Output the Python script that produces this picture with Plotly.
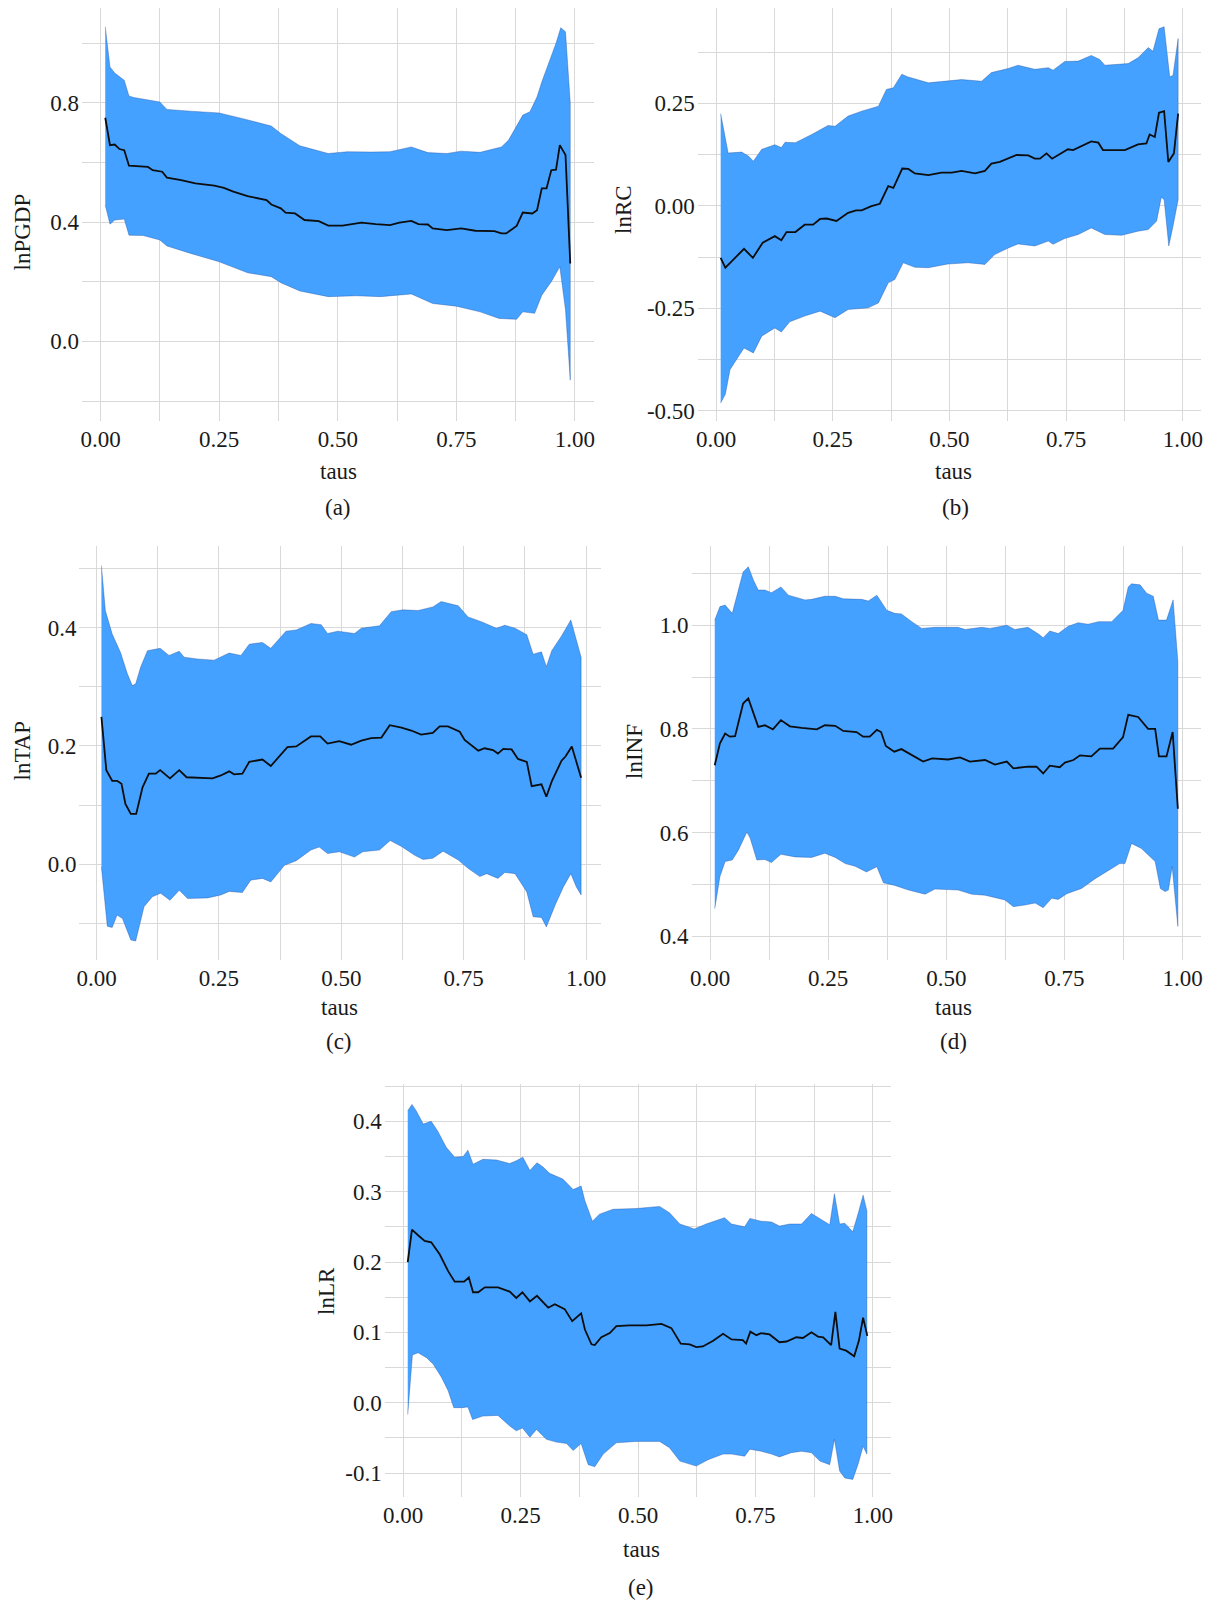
import plotly.graph_objects as go

# ---------------- data ----------------
X_TICKS = [0.0, 0.25, 0.5, 0.75, 1.0]
X_TICKTEXT = ["0.00", "0.25", "0.50", "0.75", "1.00"]

# (a) lnPGDP
A_UP_TAU = [0.01,0.02,0.03,0.05,0.06,0.07,0.125,0.14,0.19,0.25,0.30,0.36,0.38,0.42,0.48,0.52,0.57,0.61,0.655,0.69,0.73,0.76,0.80,0.845,0.86,0.877,0.89,0.905,0.92,0.93,0.95,0.96,0.97,0.98,0.99]
A_UP = [1.055,0.92,0.90,0.876,0.823,0.818,0.803,0.778,0.772,0.766,0.747,0.722,0.697,0.656,0.63,0.636,0.635,0.636,0.652,0.633,0.63,0.638,0.634,0.652,0.675,0.72,0.759,0.77,0.82,0.87,0.952,1.0,1.052,1.038,0.80]
A_LO_TAU = [0.01,0.02,0.03,0.05,0.06,0.09,0.125,0.14,0.19,0.25,0.31,0.36,0.38,0.42,0.48,0.54,0.59,0.655,0.70,0.75,0.80,0.84,0.877,0.89,0.915,0.93,0.95,0.968,0.98,0.99]
A_LO = [0.457,0.393,0.407,0.41,0.356,0.355,0.34,0.32,0.295,0.267,0.23,0.217,0.197,0.169,0.15,0.153,0.15,0.159,0.127,0.118,0.099,0.077,0.074,0.099,0.094,0.155,0.20,0.25,0.105,-0.13]
A_MID_TAU = [0.01,0.02,0.03,0.04,0.05,0.06,0.10,0.11,0.13,0.14,0.17,0.20,0.24,0.26,0.28,0.31,0.35,0.36,0.38,0.39,0.41,0.43,0.46,0.48,0.51,0.55,0.58,0.61,0.63,0.655,0.67,0.69,0.70,0.73,0.76,0.79,0.83,0.845,0.855,0.877,0.89,0.91,0.92,0.93,0.94,0.95,0.96,0.968,0.98,0.99]
A_MID = [0.75,0.658,0.66,0.645,0.641,0.589,0.585,0.574,0.569,0.549,0.541,0.53,0.522,0.515,0.502,0.487,0.474,0.459,0.446,0.432,0.429,0.407,0.403,0.388,0.388,0.398,0.393,0.39,0.398,0.404,0.393,0.392,0.379,0.373,0.379,0.371,0.37,0.362,0.362,0.387,0.432,0.429,0.44,0.513,0.513,0.574,0.576,0.658,0.625,0.261]
A_Y_TICKS = [0.0, 0.4, 0.8]
A_Y_TICKTEXT = ["0.0", "0.4", "0.8"]

# (b) lnRC
B_UP_TAU = [0.01,0.026,0.055,0.07,0.08,0.098,0.126,0.14,0.148,0.17,0.205,0.24,0.255,0.283,0.312,0.348,0.365,0.38,0.398,0.41,0.455,0.526,0.569,0.59,0.626,0.647,0.683,0.712,0.722,0.747,0.776,0.804,0.822,0.833,0.883,0.904,0.926,0.936,0.949,0.96,0.972,0.979,0.99]
B_UP = [0.225,0.129,0.131,0.121,0.109,0.138,0.149,0.142,0.155,0.154,0.174,0.196,0.194,0.219,0.231,0.243,0.284,0.288,0.321,0.315,0.30,0.308,0.304,0.325,0.335,0.343,0.333,0.337,0.331,0.352,0.353,0.367,0.357,0.343,0.347,0.361,0.386,0.377,0.432,0.437,0.315,0.318,0.408]
B_LO_TAU = [0.01,0.02,0.03,0.044,0.06,0.07,0.08,0.098,0.126,0.14,0.158,0.19,0.223,0.255,0.283,0.326,0.348,0.369,0.383,0.401,0.426,0.455,0.497,0.54,0.576,0.597,0.626,0.647,0.683,0.712,0.722,0.747,0.776,0.804,0.833,0.869,0.904,0.926,0.944,0.954,0.96,0.97,0.979,0.99]
B_LO = [-0.481,-0.46,-0.40,-0.375,-0.347,-0.353,-0.359,-0.318,-0.298,-0.308,-0.283,-0.269,-0.257,-0.273,-0.253,-0.249,-0.237,-0.188,-0.18,-0.139,-0.15,-0.151,-0.142,-0.139,-0.143,-0.119,-0.103,-0.093,-0.098,-0.086,-0.094,-0.08,-0.07,-0.054,-0.07,-0.072,-0.062,-0.058,-0.037,0.021,0.015,-0.098,-0.05,0.015]
B_MID_TAU = [0.01,0.02,0.034,0.044,0.06,0.079,0.10,0.126,0.14,0.151,0.17,0.19,0.208,0.223,0.237,0.258,0.283,0.30,0.312,0.333,0.351,0.369,0.38,0.399,0.412,0.426,0.455,0.483,0.505,0.526,0.555,0.576,0.59,0.608,0.626,0.644,0.669,0.683,0.694,0.708,0.72,0.74,0.754,0.765,0.783,0.804,0.819,0.829,0.876,0.904,0.922,0.929,0.94,0.949,0.96,0.969,0.981,0.99]
B_MID = [-0.127,-0.151,-0.135,-0.123,-0.105,-0.127,-0.09,-0.074,-0.084,-0.064,-0.064,-0.046,-0.046,-0.032,-0.031,-0.037,-0.017,-0.011,-0.011,-0.001,0.005,0.048,0.044,0.091,0.09,0.079,0.075,0.081,0.081,0.085,0.079,0.085,0.103,0.107,0.115,0.124,0.123,0.115,0.115,0.128,0.115,0.129,0.138,0.136,0.146,0.157,0.154,0.136,0.136,0.15,0.152,0.174,0.168,0.227,0.231,0.107,0.128,0.225]
B_Y_TICKS = [-0.5, -0.25, 0.0, 0.25]
B_Y_TICKTEXT = ["-0.50", "-0.25", "0.00", "0.25"]

# (c) lnTAP
C_UP_TAU = [0.01,0.018,0.032,0.049,0.063,0.073,0.08,0.09,0.104,0.13,0.148,0.169,0.179,0.206,0.24,0.271,0.295,0.312,0.339,0.356,0.387,0.408,0.438,0.459,0.472,0.493,0.527,0.541,0.578,0.602,0.626,0.657,0.687,0.704,0.739,0.759,0.786,0.817,0.834,0.855,0.879,0.892,0.909,0.919,0.93,0.95,0.969,0.99]
C_UP = [0.505,0.429,0.389,0.358,0.322,0.302,0.305,0.333,0.361,0.365,0.353,0.36,0.35,0.347,0.345,0.357,0.353,0.372,0.375,0.365,0.394,0.396,0.407,0.405,0.39,0.394,0.39,0.399,0.403,0.427,0.43,0.429,0.435,0.444,0.437,0.418,0.41,0.399,0.404,0.399,0.388,0.355,0.359,0.334,0.361,0.386,0.413,0.35]
C_LO_TAU = [0.01,0.022,0.032,0.042,0.053,0.07,0.08,0.097,0.114,0.131,0.15,0.169,0.186,0.227,0.254,0.271,0.298,0.315,0.339,0.356,0.384,0.408,0.438,0.455,0.472,0.496,0.527,0.544,0.578,0.60,0.623,0.65,0.667,0.687,0.708,0.739,0.759,0.783,0.797,0.82,0.834,0.855,0.879,0.892,0.909,0.919,0.937,0.954,0.969,0.98,0.99]
C_LO = [-0.005,-0.105,-0.107,-0.086,-0.092,-0.128,-0.13,-0.072,-0.055,-0.049,-0.061,-0.044,-0.058,-0.057,-0.052,-0.046,-0.048,-0.027,-0.024,-0.03,-0.002,0.006,0.024,0.029,0.018,0.021,0.012,0.021,0.024,0.04,0.03,0.015,0.008,0.01,0.022,0.007,-0.007,-0.021,-0.016,-0.024,-0.014,-0.016,-0.047,-0.089,-0.09,-0.106,-0.069,-0.038,-0.016,-0.038,-0.052]
C_MID_TAU = [0.01,0.02,0.032,0.042,0.051,0.059,0.07,0.081,0.094,0.107,0.121,0.13,0.15,0.169,0.184,0.203,0.237,0.254,0.271,0.281,0.298,0.312,0.339,0.356,0.39,0.408,0.438,0.457,0.472,0.496,0.52,0.541,0.561,0.582,0.599,0.623,0.643,0.663,0.687,0.701,0.718,0.742,0.752,0.78,0.793,0.81,0.82,0.831,0.848,0.861,0.879,0.889,0.909,0.919,0.93,0.95,0.958,0.971,0.99]
C_MID = [0.249,0.159,0.141,0.141,0.136,0.102,0.085,0.085,0.13,0.153,0.153,0.159,0.145,0.159,0.147,0.146,0.145,0.15,0.157,0.152,0.153,0.173,0.177,0.166,0.198,0.199,0.216,0.216,0.204,0.208,0.202,0.209,0.213,0.214,0.235,0.231,0.226,0.219,0.222,0.233,0.233,0.224,0.21,0.192,0.196,0.193,0.187,0.195,0.194,0.178,0.173,0.132,0.135,0.114,0.14,0.175,0.182,0.199,0.146]
C_Y_TICKS = [0.0, 0.2, 0.4]
C_Y_TICKTEXT = ["0.0", "0.2", "0.4"]

# (d) lnINF
D_UP_TAU = [0.01,0.021,0.032,0.047,0.06,0.07,0.081,0.092,0.102,0.116,0.13,0.15,0.166,0.201,0.215,0.243,0.265,0.282,0.321,0.335,0.353,0.374,0.391,0.405,0.427,0.448,0.476,0.525,0.54,0.575,0.592,0.628,0.645,0.673,0.695,0.705,0.719,0.737,0.758,0.779,0.80,0.822,0.85,0.874,0.885,0.892,0.91,0.924,0.938,0.949,0.966,0.98,0.99]
D_UP = [1.01,1.036,1.039,1.023,1.068,1.103,1.113,1.087,1.068,1.068,1.063,1.074,1.058,1.049,1.05,1.056,1.056,1.051,1.05,1.047,1.058,1.029,1.023,1.022,1.007,0.994,0.996,0.996,0.992,0.996,0.994,1.0,0.992,0.996,0.983,0.976,0.989,0.984,0.998,1.005,1.002,1.007,1.007,1.029,1.074,1.08,1.078,1.062,1.056,1.01,1.01,1.049,0.93]
D_LO_TAU = [0.01,0.021,0.032,0.047,0.06,0.078,0.085,0.099,0.116,0.13,0.15,0.18,0.215,0.243,0.265,0.286,0.307,0.331,0.353,0.367,0.391,0.42,0.455,0.476,0.525,0.554,0.582,0.624,0.642,0.666,0.688,0.705,0.723,0.737,0.755,0.786,0.815,0.843,0.867,0.878,0.892,0.913,0.931,0.942,0.953,0.963,0.97,0.978,0.99]
D_LO = [0.453,0.515,0.544,0.547,0.566,0.601,0.589,0.547,0.548,0.542,0.558,0.553,0.552,0.56,0.552,0.54,0.535,0.524,0.534,0.503,0.498,0.489,0.481,0.491,0.489,0.481,0.479,0.47,0.457,0.46,0.464,0.455,0.473,0.471,0.482,0.492,0.511,0.527,0.54,0.54,0.579,0.569,0.553,0.544,0.492,0.486,0.489,0.534,0.419]
D_MID_TAU = [0.01,0.021,0.032,0.042,0.053,0.07,0.081,0.102,0.116,0.133,0.15,0.169,0.194,0.226,0.243,0.265,0.282,0.31,0.324,0.338,0.353,0.362,0.372,0.39,0.405,0.427,0.451,0.47,0.504,0.529,0.55,0.582,0.603,0.628,0.642,0.673,0.691,0.705,0.719,0.74,0.751,0.769,0.783,0.807,0.825,0.853,0.874,0.885,0.906,0.927,0.942,0.95,0.966,0.979,0.99]
D_MID = [0.73,0.772,0.791,0.785,0.786,0.849,0.859,0.804,0.807,0.799,0.817,0.805,0.802,0.799,0.807,0.806,0.796,0.794,0.785,0.785,0.798,0.794,0.767,0.756,0.761,0.749,0.737,0.743,0.741,0.745,0.737,0.74,0.731,0.737,0.724,0.727,0.727,0.714,0.729,0.726,0.735,0.74,0.749,0.747,0.762,0.762,0.784,0.827,0.823,0.80,0.80,0.747,0.747,0.794,0.646]
D_Y_TICKS = [0.4, 0.6, 0.8, 1.0]
D_Y_TICKTEXT = ["0.4", "0.6", "0.8", "1.0"]

# (e) lnLR
E_UP_TAU = [0.01,0.019,0.028,0.043,0.06,0.074,0.092,0.11,0.128,0.138,0.149,0.17,0.199,0.227,0.241,0.255,0.27,0.285,0.298,0.312,0.34,0.362,0.379,0.387,0.403,0.418,0.447,0.496,0.546,0.567,0.589,0.62,0.645,0.684,0.699,0.727,0.738,0.762,0.784,0.801,0.823,0.848,0.869,0.89,0.908,0.918,0.929,0.94,0.957,0.968,0.979,0.987]
E_UP = [0.415,0.424,0.415,0.396,0.40,0.386,0.363,0.349,0.35,0.359,0.339,0.346,0.345,0.34,0.344,0.349,0.33,0.341,0.335,0.326,0.318,0.303,0.308,0.287,0.258,0.268,0.275,0.276,0.279,0.27,0.254,0.247,0.254,0.263,0.254,0.25,0.262,0.258,0.257,0.251,0.254,0.254,0.269,0.261,0.253,0.297,0.254,0.255,0.243,0.268,0.295,0.273]
E_LO_TAU = [0.01,0.02,0.032,0.05,0.064,0.082,0.096,0.108,0.126,0.138,0.148,0.17,0.202,0.227,0.241,0.254,0.27,0.284,0.305,0.326,0.348,0.362,0.379,0.394,0.408,0.426,0.454,0.496,0.546,0.567,0.589,0.624,0.649,0.681,0.699,0.727,0.738,0.762,0.784,0.801,0.826,0.848,0.869,0.887,0.908,0.918,0.929,0.94,0.957,0.968,0.979,0.987]
E_LO = [-0.017,0.068,0.071,0.064,0.055,0.036,0.017,-0.007,-0.007,-0.006,-0.024,-0.019,-0.018,-0.033,-0.04,-0.036,-0.049,-0.038,-0.052,-0.056,-0.058,-0.068,-0.058,-0.088,-0.091,-0.073,-0.057,-0.055,-0.055,-0.064,-0.083,-0.09,-0.081,-0.073,-0.073,-0.076,-0.066,-0.069,-0.073,-0.077,-0.071,-0.069,-0.071,-0.083,-0.088,-0.052,-0.097,-0.107,-0.109,-0.088,-0.062,-0.073]
E_MID_TAU = [0.01,0.019,0.032,0.046,0.06,0.078,0.096,0.11,0.13,0.14,0.149,0.16,0.174,0.202,0.227,0.241,0.254,0.27,0.285,0.309,0.323,0.344,0.36,0.379,0.387,0.401,0.408,0.422,0.44,0.454,0.482,0.518,0.55,0.571,0.591,0.61,0.624,0.638,0.66,0.681,0.699,0.723,0.73,0.739,0.752,0.762,0.78,0.801,0.816,0.837,0.851,0.869,0.883,0.894,0.911,0.92,0.929,0.943,0.96,0.97,0.979,0.988]
E_MID = [0.20,0.246,0.238,0.23,0.228,0.211,0.187,0.172,0.172,0.178,0.157,0.157,0.164,0.164,0.158,0.149,0.157,0.144,0.152,0.135,0.14,0.133,0.116,0.127,0.104,0.083,0.082,0.093,0.099,0.109,0.11,0.11,0.112,0.106,0.084,0.083,0.079,0.08,0.088,0.098,0.09,0.089,0.084,0.101,0.096,0.099,0.097,0.086,0.087,0.093,0.092,0.10,0.094,0.093,0.082,0.129,0.077,0.074,0.066,0.088,0.121,0.095]
E_Y_TICKS = [-0.1, 0.0, 0.1, 0.2, 0.3, 0.4]
E_Y_TICKTEXT = ["-0.1", "0.0", "0.1", "0.2", "0.3", "0.4"]

Y_TITLES = ["lnPGDP", "lnRC", "lnTAP", "lnINF", "lnLR"]
X_TITLE = "taus"
PANEL_LABELS = ["(a)", "(b)", "(c)", "(d)", "(e)"]

# ---------------- layout / style ----------------
PAGE_W, PAGE_H = 1219, 1602
OFF = 8                      # default page margin around the plot div
W, H = PAGE_W - OFF, PAGE_H - OFF
FONT = "Liberation Serif"
FS = 23
TXT = "#1a1a1a"
FILL = "#44A1FF"
GRID = "#d9d9d9"


def px_x(v):
    return (v - OFF) / W


def px_y(v):
    return 1 - (v - OFF) / H


PANELS = [
    dict(box=(82.0, 593.5, 8, 421), xr=(-0.039, 1.039), yr=(-0.267, 1.118), ymin=0.2,
         up=(A_UP_TAU, A_UP), lo=(A_LO_TAU, A_LO), mid=(A_MID_TAU, A_MID), yt=(A_Y_TICKS, A_Y_TICKTEXT),
         ytitle=(21.5, 232), xtitle=(338, 471), lab=(338, 508)),
    dict(box=(697.8, 1201.0, 8, 421), xr=(-0.039, 1.039), yr=(-0.525, 0.4826), ymin=0.125,
         up=(B_UP_TAU, B_UP), lo=(B_LO_TAU, B_LO), mid=(B_MID_TAU, B_MID), yt=(B_Y_TICKS, B_Y_TICKTEXT),
         ytitle=(624, 210), xtitle=(953, 471), lab=(955, 508)),
    dict(box=(79.4, 600.7, 546, 960), xr=(-0.035, 1.03), yr=(-0.162, 0.538), ymin=0.1,
         up=(C_UP_TAU, C_UP), lo=(C_LO_TAU, C_LO), mid=(C_MID_TAU, C_MID), yt=(C_Y_TICKS, C_Y_TICKTEXT),
         ytitle=(21.5, 751), xtitle=(339, 1007), lab=(339, 1041)),
    dict(box=(691.6, 1201.0, 546, 960), xr=(-0.039, 1.039), yr=(0.354, 1.153), ymin=0.1,
         up=(D_UP_TAU, D_UP), lo=(D_LO_TAU, D_LO), mid=(D_MID_TAU, D_MID), yt=(D_Y_TICKS, D_Y_TICKTEXT),
         ytitle=(634, 752), xtitle=(953, 1007), lab=(953, 1041)),
    dict(box=(384.7, 891.3, 1084, 1497), xr=(-0.039, 1.039), yr=(-0.134, 0.453), ymin=0.05,
         up=(E_UP_TAU, E_UP), lo=(E_LO_TAU, E_LO), mid=(E_MID_TAU, E_MID), yt=(E_Y_TICKS, E_Y_TICKTEXT),
         ytitle=(326, 1291), xtitle=(641, 1549), lab=(641, 1587)),
]

fig = go.Figure()
annotations = []
layout = dict(
    width=W, height=H, margin=dict(l=0, r=0, t=0, b=0, autoexpand=False),
    paper_bgcolor="white", plot_bgcolor="white", showlegend=False,
    font=dict(family=FONT, color=TXT, size=FS),
)

for i, p in enumerate(PANELS):
    n = "" if i == 0 else str(i + 1)
    xa, ya = "x" + n, "y" + n
    ux, uy = p["up"]
    lx, ly = p["lo"]
    mx, my = p["mid"]
    fig.add_trace(go.Scatter(
        x=list(ux) + list(lx)[::-1], y=list(uy) + list(ly)[::-1],
        fill="toself", fillcolor=FILL, mode="lines",
        line=dict(color="rgba(25,70,150,0.45)", width=0.8),
        xaxis=xa, yaxis=ya, hoverinfo="skip"))
    fig.add_trace(go.Scatter(
        x=mx, y=my, mode="lines", line=dict(color="#0d0d0d", width=1.8),
        xaxis=xa, yaxis=ya))

    l, r, t, b = p["box"]
    layout["xaxis" + n] = dict(
        domain=[px_x(l), px_x(r)], range=list(p["xr"]), anchor=ya, automargin=False,
        tickmode="array", tickvals=X_TICKS, ticktext=X_TICKTEXT,
        showgrid=True, gridcolor=GRID, gridwidth=1,
        minor=dict(dtick=0.125, tick0=0, showgrid=True, gridcolor=GRID, gridwidth=1),
        zeroline=False, showline=False, ticks="",
        tickfont=dict(family=FONT, size=FS, color=TXT), ticklabelstandoff=2)
    layout["yaxis" + n] = dict(
        domain=[px_y(b), px_y(t)], range=list(p["yr"]), anchor=xa, automargin=False,
        tickmode="array", tickvals=p["yt"][0], ticktext=p["yt"][1],
        showgrid=True, gridcolor=GRID, gridwidth=1,
        minor=dict(dtick=p["ymin"], tick0=0, showgrid=True, gridcolor=GRID, gridwidth=1),
        zeroline=False, showline=False, ticks="",
        tickfont=dict(family=FONT, size=FS, color=TXT), ticklabelstandoff=2)

    for txt, key, ang in ((Y_TITLES[i], "ytitle", -90), (X_TITLE, "xtitle", 0), (PANEL_LABELS[i], "lab", 0)):
        tx, ty = p[key]
        annotations.append(dict(text=txt, x=px_x(tx), y=px_y(ty), xref="paper", yref="paper",
                                textangle=ang, showarrow=False, xanchor="center", yanchor="middle",
                                font=dict(family=FONT, size=FS, color=TXT)))

layout["annotations"] = annotations
fig.update_layout(**layout)
fig.write_html("out.html")
